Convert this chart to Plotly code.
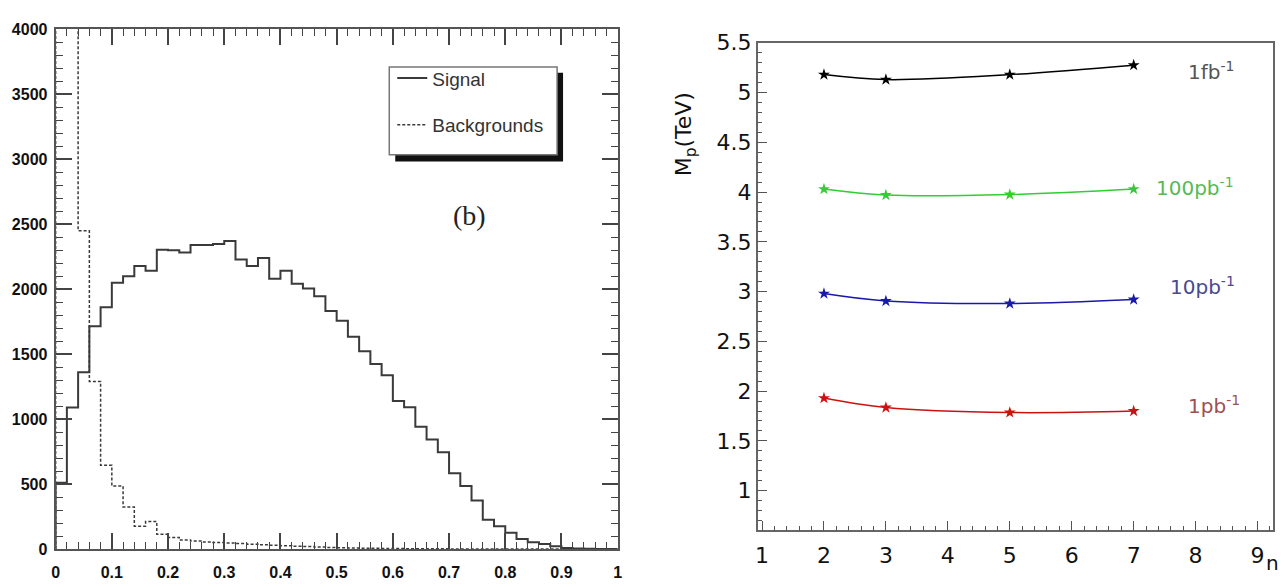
import numpy as np
import plotly.graph_objects as go

# ---------------- Left panel: histogram, 50 bins on [0, 1] ----------------
bin_range = [0.0, 1.0]
signal_counts = [510, 1090, 1360, 1715, 1862, 2050, 2100, 2179, 2142, 2303,
                 2300, 2283, 2340, 2340, 2348, 2372, 2229, 2179, 2241, 2080,
                 2142, 2043, 2006, 1945, 1833, 1758, 1635, 1523, 1424, 1338,
                 1140, 1091, 942, 843, 745, 584, 485, 373, 225, 176,
                 126, 77, 52, 40, 22, 8, 4, 2, 0, 0]
background_counts = [4600, 4600, 2450, 1290, 645, 485, 324, 176, 213, 114,
                     89, 70, 62, 55, 50, 46, 42, 38, 33, 30,
                     26, 22, 20, 16, 13, 11, 9, 7, 6, 5,
                     4, 3, 3, 2, 2, 1, 1, 1, 0, 0,
                     0, 0, 0, 0, 0, 0, 0, 0, 0, 0]
hist_ticks_y = [0, 500, 1000, 1500, 2000, 2500, 3000, 3500, 4000]

# ---------------- Right panel: M_p vs n ----------------
n_values = [2, 3, 5, 7]
mp_1fb = [5.18, 5.13, 5.18, 5.275]
mp_100pb = [4.03, 3.97, 3.975, 4.03]
mp_10pb = [2.98, 2.905, 2.88, 2.92]
mp_1pb = [1.93, 1.835, 1.785, 1.80]
lumi_labels = ["1fb<sup>-1</sup>", "100pb<sup>-1</sup>", "10pb<sup>-1</sup>", "1pb<sup>-1</sup>"]

W, H = 1284, 587


def px_x(p):
    return p / W


def px_y(p):
    return 1 - p / H


def step_xy(counts):
    edges = np.linspace(bin_range[0], bin_range[1], len(counts) + 1)
    xs = [edges[0]] + list(edges)
    ys = [0] + list(counts) + [counts[-1]]
    return xs, ys


fig = go.Figure()

sx, sy = step_xy(signal_counts)
bx, by = step_xy(background_counts)
fig.add_trace(go.Scatter(x=sx, y=sy, mode="lines", line_shape="hv", name="Signal",
                         legendgroup="sig",
                         line=dict(color="#3a3a3a", width=2),
                         xaxis="x", yaxis="y"))
fig.add_trace(go.Scatter(x=bx, y=by, mode="lines", line_shape="hv", name="Backgrounds",
                         legendgroup="bkg",
                         line=dict(color="#3a3a3a", width=1.5, dash="3px,2px"),
                         xaxis="x", yaxis="y"))

series = [(mp_1fb, "#000000"), (mp_100pb, "#33cc33"), (mp_10pb, "#1a1aa8"), (mp_1pb, "#cc1111")]
for vals, col in series:
    fig.add_trace(go.Scatter(x=n_values, y=vals, mode="lines+markers",
                             line=dict(color=col, width=1.5, shape="spline", smoothing=1),
                             marker=dict(symbol="star", size=9, color=col),
                             showlegend=False, xaxis="x2", yaxis="y2"))

left_font = dict(family="Liberation Sans, Arial, sans-serif", size=16, color="#111", weight="bold")
right_font = dict(family="DejaVu Sans, Liberation Sans, sans-serif", size=22, color="#111")

fig.update_layout(
    width=W, height=H,
    margin=dict(l=0, r=0, t=0, b=0),
    paper_bgcolor="white", plot_bgcolor="white",
    xaxis=dict(domain=[px_x(52), px_x(618)], range=bin_range, anchor="y",
               showline=True, linecolor="#555", linewidth=2, mirror="allticks",
               ticks="inside", ticklen=16, tickwidth=1.5, tickcolor="#444",
               dtick=0.1, tick0=0, tickfont=left_font, ticklabelstandoff=8,
               minor=dict(dtick=0.02, ticks="inside", ticklen=7, tickcolor="#444", tickwidth=1.2),
               showgrid=False, zeroline=False, fixedrange=True),
    yaxis=dict(domain=[px_y(557), px_y(18)], range=[0, 4000], anchor="x",
               showline=True, linecolor="#555", linewidth=2, mirror="allticks",
               ticks="inside", ticklen=16, tickwidth=1.5, tickcolor="#444",
               tickvals=hist_ticks_y, tickfont=left_font, ticklabelstandoff=3,
               minor=dict(dtick=100, ticks="inside", ticklen=7, tickcolor="#444", tickwidth=1.2),
               showgrid=False, zeroline=False, fixedrange=True),
    xaxis2=dict(domain=[px_x(759), px_x(1278)], range=[0.93, 9.25], anchor="y2",
                showline=True, linecolor="#666", linewidth=1.5, mirror=True,
                ticks="inside", ticklen=10, tickwidth=1.2, tickcolor="#555",
                dtick=1, tick0=0, tickfont=right_font, ticklabelstandoff=4,
                minor=dict(dtick=0.2, ticks="inside", ticklen=5, tickcolor="#555", tickwidth=1),
                showgrid=False, zeroline=False, fixedrange=True),
    yaxis2=dict(domain=[px_y(537.7), px_y(31.7)], range=[0.6, 5.502], anchor="x2",
                showline=True, linecolor="#666", linewidth=1.5, mirror=True,
                ticks="inside", ticklen=10, tickwidth=1.2, tickcolor="#555",
                dtick=0.5, tick0=0, tickfont=right_font,
                minor=dict(dtick=0.1, ticks="inside", ticklen=5, tickcolor="#555", tickwidth=1),
                showgrid=False, zeroline=False, fixedrange=True),
    legend=dict(x=px_x(391), y=px_y(49), xanchor="left", yanchor="top",
                bgcolor="rgba(0,0,0,0)", borderwidth=0,
                font=dict(family="Liberation Sans, Arial, sans-serif", size=19, color="#333"),
                tracegroupgap=19, itemwidth=30),
    showlegend=True,
)

# legend frame with drop shadow
fig.add_shape(type="rect", xref="paper", yref="paper",
              x0=px_x(394), x1=px_x(563), y0=px_y(155), y1=px_y(63),
              fillcolor="#111", line=dict(width=0), layer="above")
fig.add_shape(type="rect", xref="paper", yref="paper",
              x0=px_x(388), x1=px_x(557), y0=px_y(148), y1=px_y(57),
              fillcolor="white", line=dict(color="#777", width=1.5), layer="above")

annotations = [
    dict(text="(b)", x=px_x(469), y=px_y(211), xref="paper", yref="paper",
         showarrow=False, font=dict(family="Liberation Serif, DejaVu Serif, serif", size=28, color="#222")),
    dict(text="M<sub>p</sub>(TeV)", x=px_x(686), y=px_y(81), xref="paper", yref="paper",
         textangle=-90, showarrow=False, font=right_font),
    dict(text="n", x=px_x(1277), y=px_y(586), xref="paper", yref="paper",
         xanchor="center", yanchor="bottom", showarrow=False,
         font=dict(family="DejaVu Sans, Liberation Sans, sans-serif", size=20, color="#111")),
]
label_specs = [
    (lumi_labels[0], 1190, 61, "#555555"),
    (lumi_labels[1], 1158, 181, "#55bb55"),
    (lumi_labels[2], 1172, 284, "#4a4a90"),
    (lumi_labels[3], 1190, 408, "#a05050"),
]
for txt, x, y, col in label_specs:
    annotations.append(dict(text=txt, x=px_x(x), y=px_y(y), xref="paper", yref="paper",
                            xanchor="left", yanchor="middle", showarrow=False,
                            font=dict(family="DejaVu Sans, Liberation Sans, sans-serif", size=20, color=col)))
fig.update_layout(annotations=annotations)

fig.write_html("out.html", config={"displayModeBar": False},
               post_script="document.body.style.margin='0';document.body.style.overflow='hidden';")
